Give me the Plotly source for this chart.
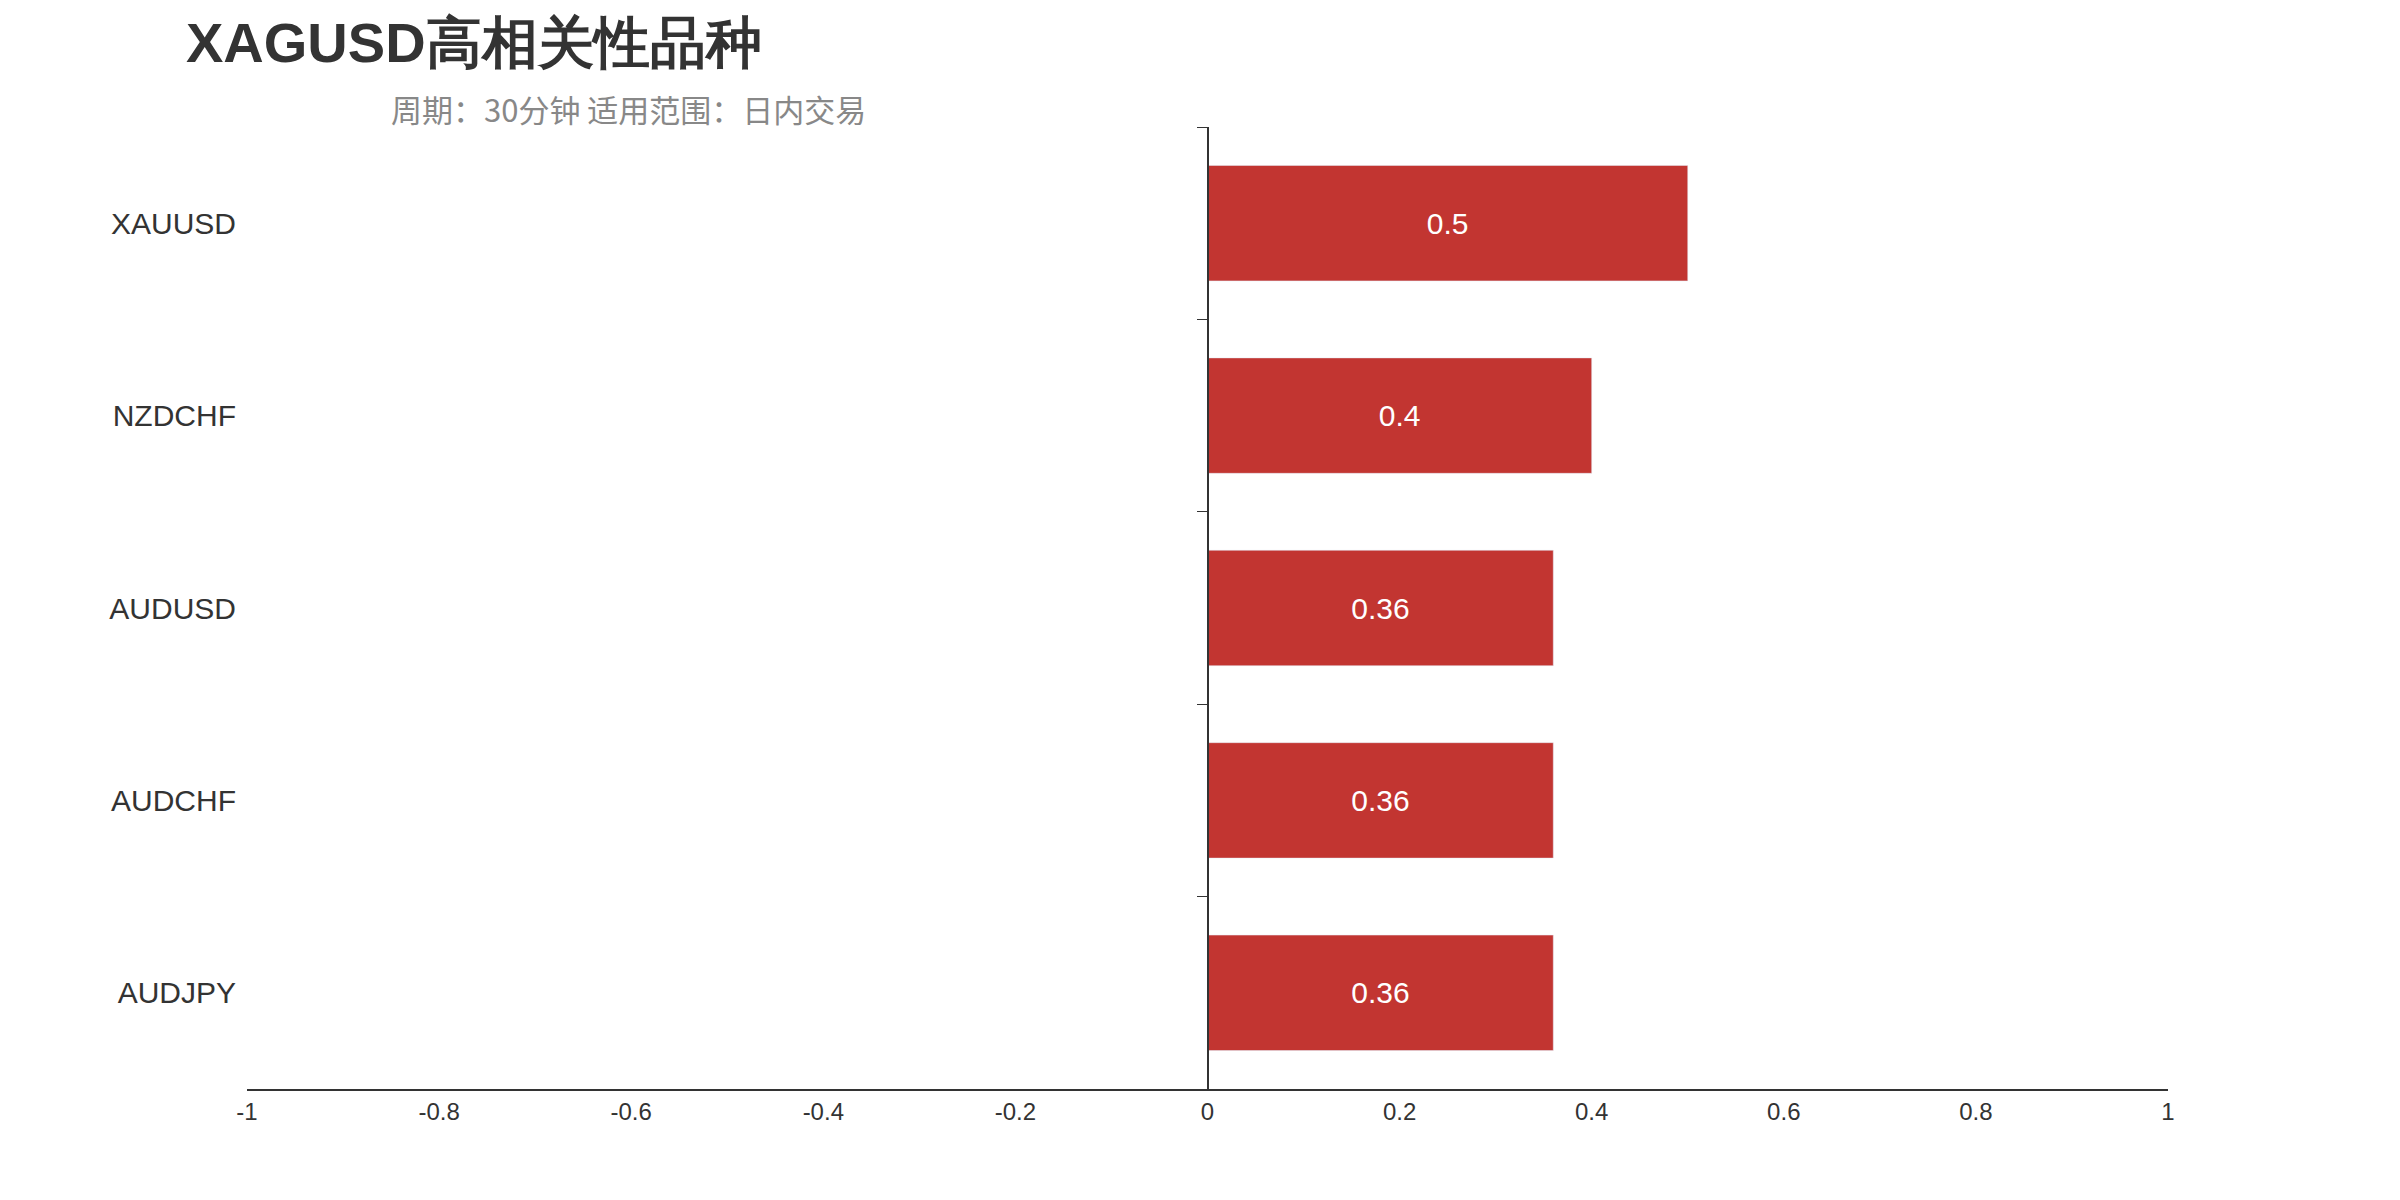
import plotly.graph_objects as go

symbols = ["XAUUSD", "NZDCHF", "AUDUSD", "AUDCHF", "AUDJPY"]
values = [0.5, 0.4, 0.36, 0.36, 0.36]
tick_vals = [-1, -0.8, -0.6, -0.4, -0.2, 0, 0.2, 0.4, 0.6, 0.8, 1]
tick_text = ["-1", "-0.8", "-0.6", "-0.4", "-0.2", "0", "0.2", "0.4", "0.6", "0.8", "1"]

fig = go.Figure()
fig.add_trace(go.Bar(
    x=values, y=symbols, orientation="h", marker_color="#c23531",
    width=0.6, text=[str(v) for v in values], textposition="inside",
    insidetextanchor="middle", textfont=dict(color="white", size=30, family="Liberation Sans"),
    hoverinfo="skip", yaxis="y"))
fig.add_trace(go.Bar(x=[0]*len(symbols), y=symbols, orientation="h", yaxis="y2",
                     marker_color="rgba(0,0,0,0)", showlegend=False, hoverinfo="skip"))

fig.update_layout(
    width=2400, height=1200, plot_bgcolor="white", paper_bgcolor="white",
    showlegend=False, barmode="overlay",
    margin=dict(l=239, r=240, t=119, b=119),
    font=dict(family="Liberation Sans", color="#333"),
    title=dict(text="<b>XAGUSD高相关性品种</b>", x=178/2400, xanchor="left",
               y=1-34/1200, yanchor="middle", font=dict(size=56, color="#333")),
    xaxis=dict(range=[-1, 1], tickvals=tick_vals, ticktext=tick_text, showgrid=False,
               zeroline=False, showline=True, linecolor="#333", linewidth=2,
               ticks="", tickfont=dict(size=24, color="#333")),
    yaxis=dict(categoryorder="array", categoryarray=symbols[::-1], showgrid=False,
               showline=False, ticks="", tickfont=dict(size=30, color="#333"),
               ticklabelstandoff=10),
    yaxis2=dict(overlaying="y", anchor="free", position=0.5, categoryorder="array",
                categoryarray=symbols[::-1], showline=True, linecolor="#333", linewidth=2,
                ticks="outside", ticklen=10, tickcolor="#333", tickson="boundaries",
                showticklabels=False, showgrid=False, zeroline=False, side="left"),
)
fig.add_annotation(text="周期：30分钟 适用范围：日内交易", xref="paper", yref="paper",
                   x=178/2400, xanchor="left", y=1-100/1200, yanchor="middle",
                   showarrow=False, font=dict(size=31, color="#888",
                   family="Noto Sans CJK SC"))
# convert y paper coordinates relative to plot area
fig.layout.annotations[0].update(yref="paper")
fig.layout.title.update(yref="container")
fig.layout.annotations[0].update(y=(1200-100-119)/(1200-238))
fig.write_html("out.html")
